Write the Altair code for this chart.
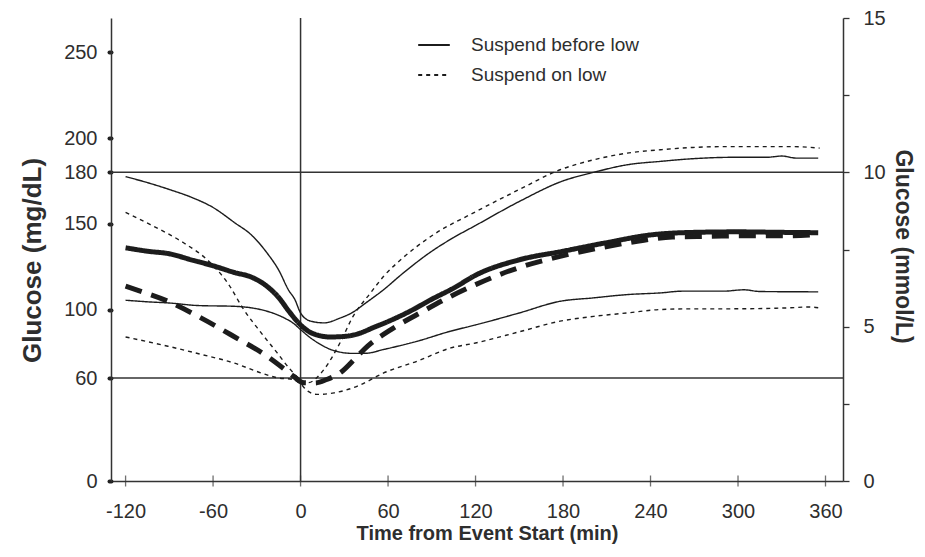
import altair as alt
import pandas as pd

# ---------------- data ----------------
series_names = ["Suspend before low", "Suspend on low"]

# Suspend before low: mean
t_before_mean = [-120, -105, -90, -75, -60, -45, -34, -23, -15, -8, 0, 6, 12, 20, 30, 40, 50, 60, 75, 90,
                 105, 120, 150, 180, 210, 240, 270, 300, 330, 355]
v_before_mean = [136, 134, 132.5, 129, 125.5, 121.5, 119, 113.5, 107, 99, 91, 87, 85, 84, 84.3, 86, 89.5, 93, 99, 106,
                 112.5, 120, 129, 134, 139, 143.5, 145, 145.3, 145, 144.8]

# Suspend before low: upper
t_before_up = [-120, -105, -90, -75, -60, -45, -34, -23, -15, -8, -4, 0, 7, 16, 27, 35, 45, 57, 70, 90,
               105, 120, 150, 180, 201, 224, 247, 270, 300, 320, 330, 340, 355]
v_before_up = [177.5, 174, 170, 165.5, 159.5, 150.5, 143.7, 133, 123, 111, 106, 98, 93.2, 92.2, 95, 98, 104, 111.6, 121, 134,
               142, 149, 163, 175, 180, 184.4, 186.4, 188, 188.8, 188.8, 189.5, 188.3, 188.3]

# Suspend before low: lower
t_before_lo = [-120, -105, -90, -70, -46, -34, -23, -11, -5, 0, 6, 12, 23, 36, 45, 57, 80, 103, 120, 150,
               178, 201, 224, 247, 262, 290, 304, 315, 355]
v_before_lo = [105.4, 104.5, 103.8, 102.3, 101.9, 101, 99, 95, 92, 88.3, 84, 80.5, 76, 74.4, 74.5, 76.7, 81.5, 87.4, 91, 98,
               104.8, 106.8, 108.7, 109.7, 110.7, 110.7, 111.5, 110.5, 110.3]

# Suspend on low: mean
t_on_mean = [-120, -110, -91, -68, -46, -23, -10, -5, 2, 10, 18, 27, 39, 46, 62, 84, 103, 120, 150,
             178, 205, 231, 255, 281, 306, 331, 354]
v_on_mean = [113.6, 110.7, 104.8, 95, 84.4, 72.8, 64.5, 61.2, 57.3, 57.2, 59.2, 63, 72.8, 78.6, 88.3, 99, 107.7, 114.5, 124.5,
             131, 135.9, 139.8, 142.3, 142.7, 143, 143, 143.7]

# Suspend on low: upper
t_on_up = [-120, -103, -80, -64, -50, -39, -27, -16, -7, 0, 5, 16, 27, 36, 48, 57, 70, 90, 120, 150,
           178, 201, 224, 247, 269, 292, 338, 356]
v_on_up = [156.7, 149.5, 138.8, 129, 115.5, 100, 86.4, 74.7, 65, 59.2, 57.3, 65, 80.5, 96, 109.7, 119.4, 130, 143, 157, 170,
           181.5, 187.3, 191.2, 193.2, 194.5, 195, 195, 194.1]

# Suspend on low: lower
t_on_lo = [-120, -91, -68, -46, -27, -16, -5, 0, 5, 11, 23, 39, 57, 80, 103, 120, 150,
           178, 201, 224, 247, 269, 292, 336, 349, 355]
v_on_lo = [84, 78.6, 73.8, 68.9, 63, 60.2, 59.2, 56.5, 52.4, 50.5, 51.4, 55.3, 63, 69.9, 77.6, 80.5, 87,
           93.2, 96, 98, 100, 100.4, 100.4, 101, 101.5, 101]

x_ticks = [-120, -60, 0, 60, 120, 180, 240, 300, 360]
left_ticks = [0, 60, 100, 150, 180, 200, 250]
right_ticks_mgdl = [0, 45, 90, 135, 180, 225, 270]   # 0, 2.5, 5 ... 15 mmol/L
ref_levels = [60, 180]
event_start = [0]

# ---------------- tables ----------------
rows = []
def add(series, stat, ts, vs):
    for t, v in zip(ts, vs):
        rows.append({"series": series, "stat": stat, "t": t, "glucose": v})

add(series_names[0], "mean", t_before_mean, v_before_mean)
add(series_names[0], "upper", t_before_up, v_before_up)
add(series_names[0], "lower", t_before_lo, v_before_lo)
add(series_names[1], "mean", t_on_mean, v_on_mean)
add(series_names[1], "upper", t_on_up, v_on_up)
add(series_names[1], "lower", t_on_lo, v_on_lo)
df = pd.DataFrame(rows)
df_mean = df[df["stat"] == "mean"]
df_band = df[df["stat"] != "mean"]

df_ref = pd.DataFrame({"glucose": ref_levels})
df_vline = pd.DataFrame({"t": event_start})
df_cross = pd.DataFrame({"t": x_ticks, "glucose": [0] * len(x_ticks)})

# ---------------- style ----------------
FONT = "Liberation Sans"
INK = "#1c1c1c"
TXT = "#2e2e2e"
AX = "#333333"

x_scale = alt.Scale(domain=[-130, 372], nice=False, zero=False)
y_scale = alt.Scale(domain=[0, 270], nice=False, zero=False)

x_axis = alt.Axis(
    orient="bottom", values=x_ticks, title="Time from Event Start (min)", grid=False,
    labelExpr="'' + datum.value",
    labelFont=FONT, labelFontSize=20, labelColor=TXT, labelPadding=20,
    labelFlush=False, labelOverlap=False, labelAngle=0,
    tickSize=0, domainColor=AX, domainWidth=1.5,
    titleFont=FONT, titleFontSize=20, titleFontWeight="bold", titleColor=TXT,
    titleX=376, titleY=52, titleAlign="center", titleBaseline="middle",
)

left_axis = alt.Axis(
    orient="left", values=left_ticks, title="Glucose (mg/dL)", grid=False,
    labelFont=FONT, labelFontSize=20, labelColor=TXT, labelPadding=12,
    labelFlush=False, labelOverlap=False,
    tickSize=2, tickWidth=4, tickCap="round", tickColor="#222222",
    domainColor=AX, domainWidth=1.5,
    titleFont=FONT, titleFontSize=26, titleFontWeight="bold", titleColor=TXT,
    titleAngle=-90, titleX=-79, titleY=242, titleAlign="center", titleBaseline="middle",
)

right_axis = alt.Axis(
    orient="right", values=right_ticks_mgdl, title="Glucose (mmol/L)", grid=False,
    labelExpr="datum.value % 90 == 0 ? format(datum.value / 18, 'd') : ''",
    labelFont=FONT, labelFontSize=20, labelColor=TXT, labelPadding=14,
    labelFlush=False, labelOverlap=False,
    tickSize=6, tickWidth=1.3, tickColor=AX,
    domainColor=AX, domainWidth=1.5,
    titleFont=FONT, titleFontSize=23, titleFontWeight="bold", titleColor=TXT,
    titleAngle=90, titleX=59, titleY=228, titleAlign="center", titleBaseline="middle",
)

# reference lines at 60 and 180 mg/dL (carry the right-hand mmol/L axis)
hlines = alt.Chart(df_ref).mark_rule(color=AX, strokeWidth=1.5).encode(
    y=alt.Y("glucose:Q", scale=y_scale, axis=right_axis)
)

# event start line
vline = alt.Chart(df_vline).mark_rule(color=AX, strokeWidth=1.5).encode(
    x=alt.X("t:Q", scale=x_scale, axis=x_axis)
)

# thin bounds lines (carry the legend)
bands = alt.Chart(df_band).mark_line(color=INK, strokeWidth=1.4, interpolate="monotone").encode(
    x=alt.X("t:Q", scale=x_scale, axis=x_axis),
    y=alt.Y("glucose:Q", scale=y_scale, axis=None),
    detail="stat:N",
    strokeDash=alt.StrokeDash(
        "series:N",
        scale=alt.Scale(domain=series_names, range=[[1, 0], [4, 4]]),
        legend=alt.Legend(
            orient="none", legendX=306, legendY=10, title=None,
            labelFont=FONT, labelFontSize=19, labelColor=TXT, labelLimit=400,
            symbolType="stroke", symbolSize=1000, symbolStrokeWidth=2,
            symbolStrokeColor=INK, labelOffset=20, rowPadding=3, padding=0,
        ),
    ),
)

# thick mean lines (carry the left axis)
means = alt.Chart(df_mean).mark_line(color=INK, strokeWidth=5, strokeCap="butt", interpolate="monotone").encode(
    x=alt.X("t:Q", scale=x_scale, axis=x_axis),
    y=alt.Y("glucose:Q", scale=y_scale, axis=left_axis),
    strokeDash=alt.StrokeDash(
        "series:N",
        scale=alt.Scale(domain=series_names, range=[[1, 0], [17, 10]]),
        legend=None,
    ),
)

# crossing tick marks on the time axis
crosses = alt.Chart(df_cross).mark_tick(orient="vertical", size=11, thickness=1.3, color=AX).encode(
    x=alt.X("t:Q", scale=x_scale, axis=x_axis),
    y=alt.Y("glucose:Q", scale=y_scale, axis=None),
)

chart = (
    alt.layer(hlines, vline, bands, means, crosses)
    .resolve_scale(strokeDash="independent")
    .resolve_axis(y="independent")
    .properties(
        width=732, height=463,
        padding={"left": 103, "top": 10, "right": 74, "bottom": 64},
        autosize=alt.AutoSizeParams(type="none"),
        background="white",
    )
    .configure_view(strokeWidth=0)
)

chart.save("out.html", embed_options={"renderer": "svg", "actions": False})
